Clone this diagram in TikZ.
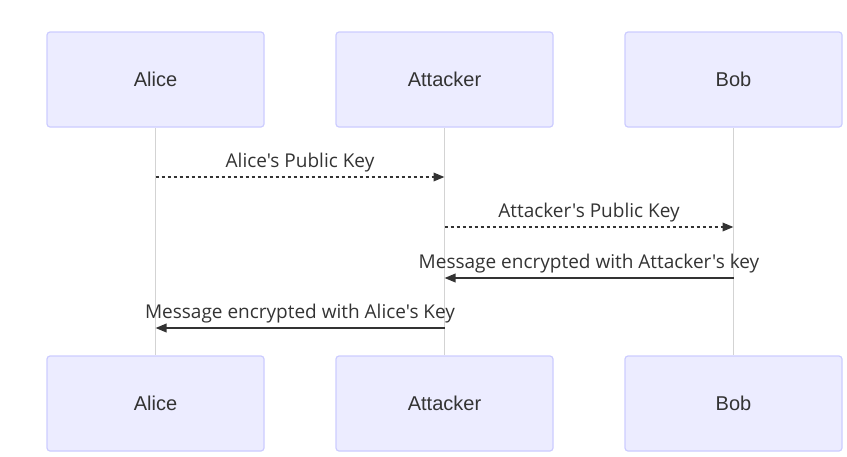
\documentclass[tikz,border=0pt]{standalone}
\usepackage{fontspec}
\setmainfont{Liberation Sans}
\newfontfamily\msgfont{Open Sans}
\usetikzlibrary{arrows.meta, positioning, calc}

\definecolor{actorfill}{HTML}{ECECFF}
\definecolor{actordraw}{HTML}{CCCCFF}
\definecolor{lifegray}{HTML}{D3D3D3}
\definecolor{inkgray}{HTML}{333333}

\tikzset{
  actor/.style={draw=actordraw, fill=actorfill, line width=1.2pt, rounded corners=3pt,
    minimum width=217pt, minimum height=95pt, text=inkgray,
    font=\fontsize{20}{24}\selectfont},
  lifeline/.style={draw=lifegray, line width=1.3pt},
  msg/.style={draw=inkgray, line width=2pt, -{Triangle[length=11pt,width=8.5pt]}},
  msgdash/.style={msg, dash pattern=on 3.5pt off 2.5pt},
  msglabel/.style={text=inkgray, inner sep=0pt, anchor=base,
    font=\msgfont\fontsize{19}{22}\selectfont}
}

\begin{document}
\begin{tikzpicture}[x=1pt, y=-1pt]

      % --- Page frame ---
      \useasboundingbox (0,0) rectangle (847,456);

      % --- Actors (top row) ---
      \node[actor] (aliceT) at (155.5, 79.5) {Alice};
      \node[actor] (attT) at (444.5, 79.5) {Attacker};
      \node[actor] (bobT) at (733.5, 79.5) {Bob};

      % --- Actors (bottom row) ---
      \node[actor] (aliceB) at (155.5, 403.5) {Alice};
      \node[actor] (attB) at (444.5, 403.5) {Attacker};
      \node[actor] (bobB) at (733.5, 403.5) {Bob};

      % --- Lifelines ---
      \draw[lifeline] (aliceT) -- (aliceB);
      \draw[lifeline] (attT) -- (attB);
      \draw[lifeline] (bobT) -- (bobB);

      % --- Message ends on the lifelines ---
      \coordinate (m1a) at (aliceT.south |- 0,177);
      \coordinate (m1b) at (attT.south |- 0,177);
      \coordinate (m2a) at (attT.south |- 0,227);
      \coordinate (m2b) at (bobT.south |- 0,227);
      \coordinate (m3a) at (bobT.south |- 0,278);
      \coordinate (m3b) at (attT.south |- 0,278);
      \coordinate (m4a) at (attT.south |- 0,328);
      \coordinate (m4b) at (aliceT.south |- 0,328);

      % --- Messages ---
      \draw[msgdash] (m1a) -- (m1b) node[msglabel, midway, yshift=10pt] (l1) {Alice's Public Key};
      \draw[msgdash] (m2a) -- (m2b) node[msglabel, midway, yshift=10pt] (l2) {Attacker's Public Key};
      \draw[msg] (m3a) -- (m3b) node[msglabel, midway, yshift=10pt] (l3) {Message encrypted with Attacker's key};
      \draw[msg] (m4a) -- (m4b) node[msglabel, midway, yshift=10pt] (l4) {Message encrypted with Alice's Key};

    \end{tikzpicture}
\end{document}
